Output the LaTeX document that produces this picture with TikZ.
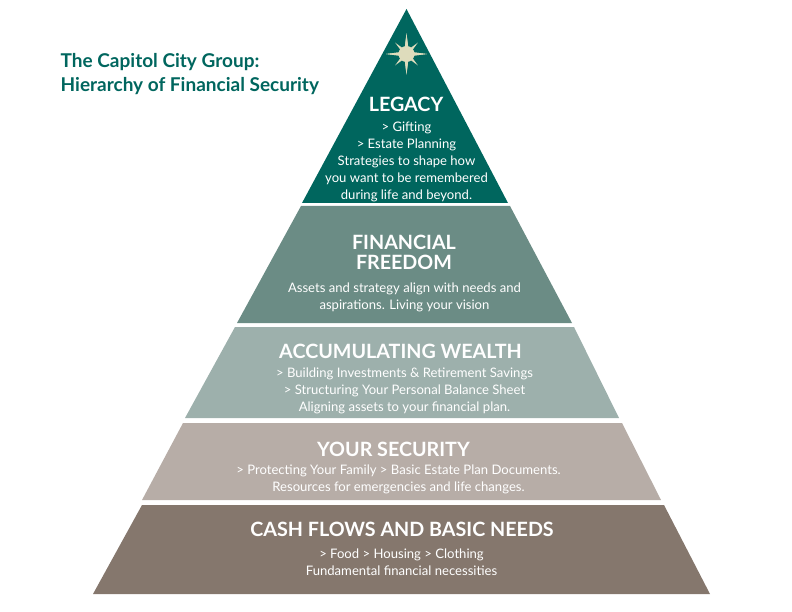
\documentclass[tikz,border=0pt]{standalone}
\usepackage{fontspec}
\setmainfont{Lato}
\definecolor{legacycol}{HTML}{00665E}
\definecolor{freedomcol}{HTML}{6B8C85}
\definecolor{wealthcol}{HTML}{9DB0AC}
\definecolor{securitycol}{HTML}{B7ADA7}
\definecolor{cashcol}{HTML}{85776D}
\definecolor{starcol}{HTML}{DEDCBC}
\tikzset{
  heading/.style={text=white,font=\fontsize{19.7}{20}\selectfont\bfseries,align=center,inner sep=0pt},
  body/.style={text=white,font=\fontsize{13.1}{16.9}\selectfont,align=center,inner sep=0pt},
  title/.style={text=legacycol,font=\fontsize{19}{23.5}\selectfont\bfseries,align=left,anchor=north west,inner sep=0pt}
}
\begin{document}
\begin{tikzpicture}[x=1pt,y=-1pt]
\useasboundingbox (0,0) rectangle (792,612);

% Bands
      \fill[legacycol] (406.5,9) -- (508,203) -- (302,203) -- cycle;
      \fill[freedomcol] (301,206) -- (510,206) -- (572,323) -- (237,323) -- cycle;
      \fill[wealthcol] (235,327) -- (574,327) -- (619,418) -- (185,418) -- cycle;
      \fill[securitycol] (183,423) -- (622,423) -- (661,500) -- (142,500) -- cycle;
      \fill[cashcol] (142,505) -- (664,505) -- (710,594) -- (93,594) -- cycle;
% Star
      \begin{scope}[shift={(406.5,54)},starcol]
        \foreach \ang in {0,90,180,270}
          \fill (\ang:20.5) -- (\ang+90:2.5) -- (\ang+180:20.5) -- (\ang-90:2.5) -- cycle;
        \foreach \ang in {45,135}
          \fill (\ang:16) -- (\ang+90:2.5) -- (\ang+180:16) -- (\ang-90:2.5) -- cycle;
        \fill (0,0) circle (8);
      \end{scope}
% Title
      \node[title] (grouptitle) at (60.5,53.5) {The Capitol City Group:\\Hierarchy of Financial Security};
% Legacy
      \node[heading] (legacyhead) at (406,104) {LEGACY};
      \node[body] (legacytext) at (406.5,162) {> Gifting\\> Estate Planning\\Strategies to shape how\\you want to be remembered\\during life and beyond.};
% Financial freedom
      \node[heading] (freedomhead) at (404,252) {FINANCIAL\\FREEDOM};
      \node[body] (freedomtext) at (404.5,297.5) {Assets and strategy align with needs and\\aspirations. Living your vision};
% Accumulating wealth
      \node[heading] (wealthhead) at (400.5,351) {ACCUMULATING WEALTH};
      \node[body] (wealthtext) at (404.5,391) {> Building Investments \& Retirement Savings\\> Structuring Your Personal Balance Sheet\\Aligning assets to your financial plan.};
% Your security
      \node[heading] (securityhead) at (393.5,449) {YOUR SECURITY};
      \node[body] (securitytext) at (398.5,479.5) {> Protecting Your Family > Basic Estate Plan Documents.\\Resources for emergencies and life changes.};
% Cash flows
      \node[heading] (cashhead) at (402,529) {CASH FLOWS AND BASIC NEEDS};
      \node[body] (cashtext) at (401.5,562) {> Food > Housing > Clothing\\Fundamental financial necessities};

\end{tikzpicture}
\end{document}
